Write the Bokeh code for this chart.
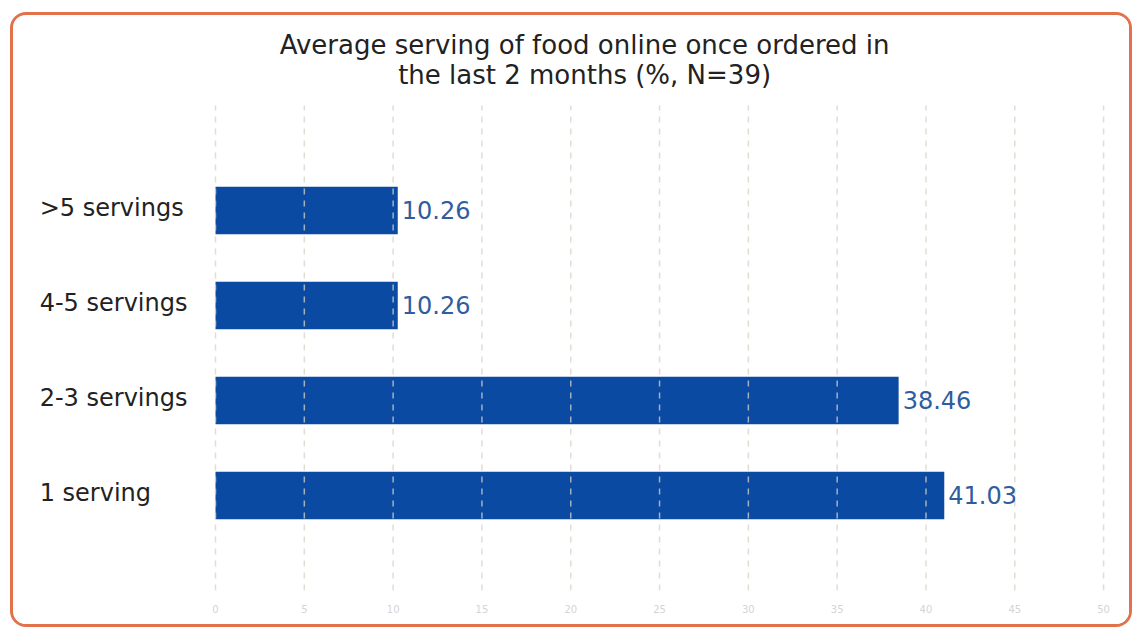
from bokeh.plotting import figure
from bokeh.models import ColumnDataSource, FixedTicker
from bokeh.core.properties import value
from bokeh.embed import file_html
from bokeh.resources import INLINE

title_lines = ["Average serving of food online once ordered in",
               "the last 2 months (%, N=39)"]
categories = ["1 serving", "2-3 servings", "4-5 servings", ">5 servings"]
values = [41.03, 38.46, 10.26, 10.26]
value_labels = ["41.03", "38.46", "10.26", "10.26"]
x_ticks = [0, 5, 10, 15, 20, 25, 30, 35, 40, 45, 50]

FONT = "DejaVu Sans"
Y_TOP_PLOT = 5.105   # top of the bar/grid area
Y_TOP = 6.052        # canvas top (room for the title)

pos = list(range(1, len(categories) + 1))
src = ColumnDataSource(dict(y=pos, v=values, lab=value_labels, cat=categories,
                            lx=[-9.9] * len(categories)))
grid_src = ColumnDataSource(dict(x=x_ticks, y0=[0] * len(x_ticks),
                                 y1=[Y_TOP_PLOT] * len(x_ticks)))
title_src = ColumnDataSource(dict(x=[20.78] * len(title_lines),
                                  y=[5.737, 5.421], t=title_lines))

p = figure(width=1122, height=615, output_backend="svg", toolbar_location=None,
           x_range=(-10.135, 51.74), y_range=(0, Y_TOP),
           min_border_left=22, min_border_right=1, min_border_top=0,
           min_border_bottom=40)
p.styles = {"border": "3px solid #e2724c", "border-radius": "16px",
            "margin-left": "10px", "margin-top": "12px", "overflow": "hidden"}

p.outline_line_color = None
p.background_fill_color = "white"
p.border_fill_color = "white"

p.hbar(y="y", right="v", left=0, height=0.5, source=src,
       fill_color="#0b4aa2", line_color=None)

# dashed vertical grid lines, drawn over the bars
p.segment(x0="x", x1="x", y0="y0", y1="y1", source=grid_src,
          line_color="#d8d2c4", line_alpha=0.75, line_dash="6 6",
          line_width=1.5)

p.text(x="v", y="y", text="lab", source=src, x_offset=4,
       text_align="left", text_baseline="middle", text_color="#2f5d9e",
       text_font=value(FONT), text_font_size="24px")
p.text(x="lx", y="y", text="cat", source=src, y_offset=-2,
       text_align="left", text_baseline="middle", text_color="#222222",
       text_font=value(FONT), text_font_size="24px")
p.text(x="x", y="y", text="t", source=title_src,
       text_align="center", text_baseline="middle", text_color="#222222",
       text_font=value(FONT), text_font_size="26px")

p.yaxis.visible = False
p.ygrid.visible = False
p.xgrid.visible = False
p.xaxis.ticker = FixedTicker(ticks=x_ticks)
p.xaxis.axis_line_color = None
p.xaxis.major_tick_line_color = None
p.xaxis.minor_tick_line_color = None
p.xaxis.major_label_text_color = "#d4d4d4"
p.xaxis.major_label_text_font_size = "10px"
p.xaxis.major_label_text_font = FONT
p.xaxis.major_label_standoff = 8

open("out.html", "w").write(file_html(p, INLINE))
